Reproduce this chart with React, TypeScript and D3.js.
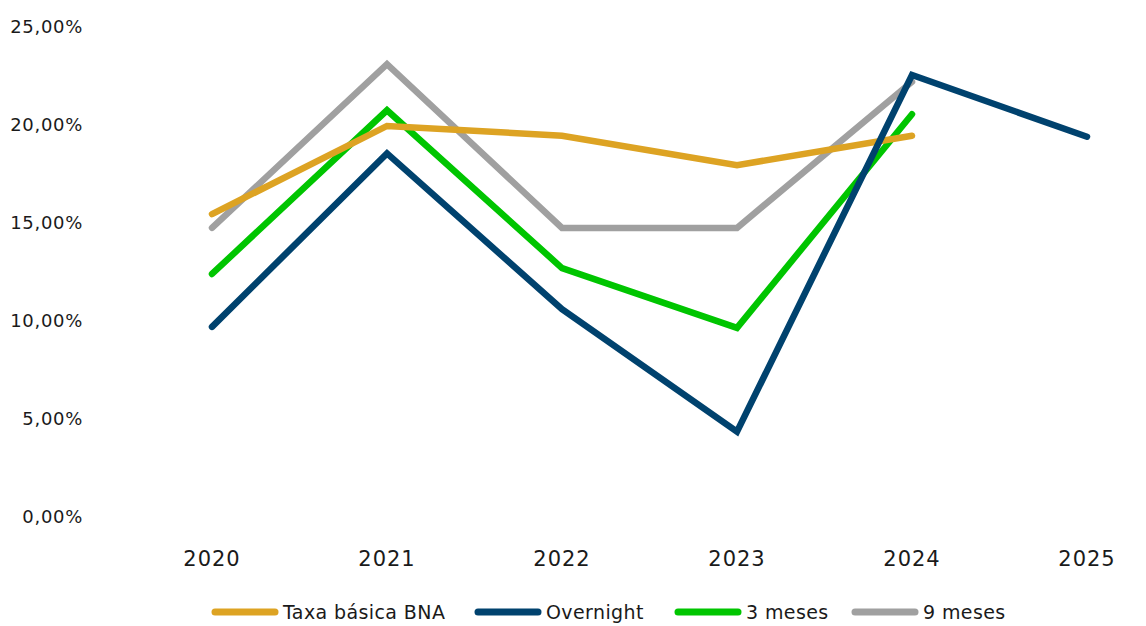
import React from "react";
import * as d3 from "d3";

const years = ["2020", "2021", "2022", "2023", "2024", "2025"];
const yTicks = [0, 5, 10, 15, 20, 25];

const taxaBasica = [15.4, 19.9, 19.4, 17.9, 19.4, null];
const overnight = [9.65, 18.5, 10.55, 4.3, 22.5, 19.35];
const tresMeses = [12.35, 20.7, 12.65, 9.6, 20.5, null];
const noveMeses = [14.7, 23.05, 14.7, 14.7, 22.15, null];

const seriesNames = ["Taxa básica BNA", "Overnight", "3 meses", "9 meses"];
const seriesColors = ["#DDA323", "#00426E", "#00C500", "#A0A0A0"];

const W = 1146;
const H = 626;
const FONT = "'DejaVu Sans', sans-serif";

export default function App() {
  const x = d3.scalePoint<string>().domain(years).range([212, 1087]);
  const y = d3.scaleLinear().domain([0, 25]).range([516, 26]);
  const fmt = (v: number) => v.toFixed(2).replace(".", ",") + "%";

  const all = [taxaBasica, overnight, tresMeses, noveMeses];
  const line = d3
    .line<number | null>()
    .defined((d) => d !== null)
    .x((_, i) => x(years[i]) as number)
    .y((d) => y(d as number));

  // draw order: gray, green, orange, navy
  const drawOrder = [3, 2, 0, 1];
  const legendX = [215, 478, 678, 855];

  return (
    <svg
      width={W}
      height={H}
      style={{ position: "absolute", left: 0, top: 0, background: "#fff" }}
      fontFamily={FONT}
    >
      {yTicks.map((t) => (
        <text
          key={t}
          x={83}
          y={y(t)}
          textAnchor="end"
          dominantBaseline="central"
          fontSize={18}
          letterSpacing={0.7}
          fill="#1a1a1a"
        >
          {fmt(t)}
        </text>
      ))}
      {years.map((yr) => (
        <text
          key={yr}
          x={x(yr) as number}
          y={559}
          textAnchor="middle"
          dominantBaseline="central"
          fontSize={21}
          letterSpacing={1}
          fill="#1a1a1a"
        >
          {yr}
        </text>
      ))}
      {drawOrder.map((si) => (
        <path
          key={si}
          d={line(all[si]) || ""}
          fill="none"
          stroke={seriesColors[si]}
          strokeWidth={6.5}
          strokeLinecap="round"
          strokeLinejoin="miter"
        />
      ))}
      {seriesNames.map((name, i) => (
        <g key={name} transform={`translate(${legendX[i]},612)`}>
          <line x1={0} x2={60} y1={0} y2={0} stroke={seriesColors[i]} strokeWidth={7} strokeLinecap="round" />
          <text x={68} y={0} dominantBaseline="central" fontSize={19} letterSpacing={0.4} fill="#1a1a1a">
            {name}
          </text>
        </g>
      ))}
    </svg>
  );
}
